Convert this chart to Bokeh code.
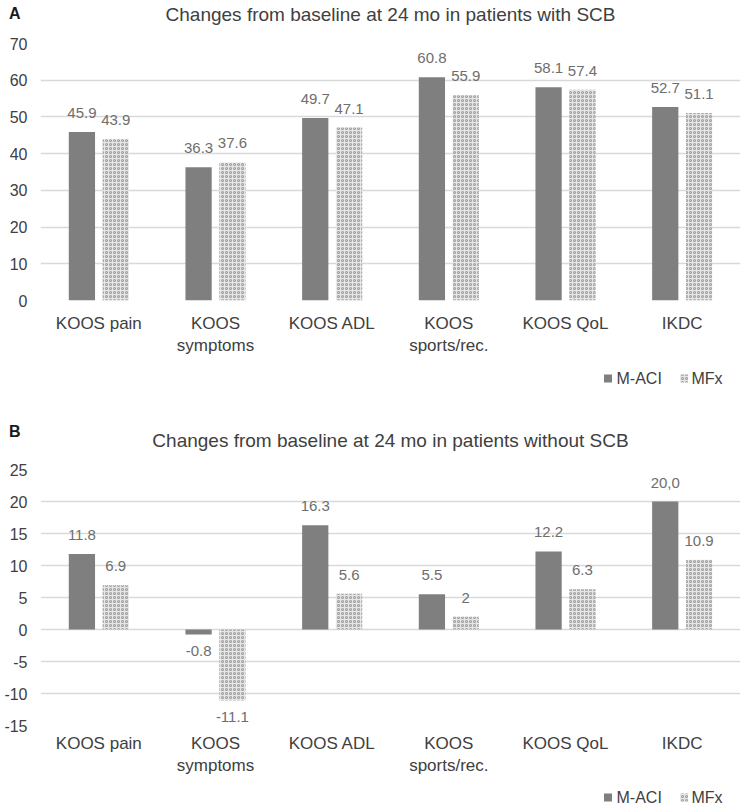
from bokeh.plotting import figure
from bokeh.models import ColumnDataSource, Range1d, FixedTicker
from bokeh.layouts import column
from bokeh.core.properties import value
from bokeh.embed import file_html
from bokeh.resources import INLINE

# ---------------- data ----------------
categories = ["KOOS pain", "KOOS\nsymptoms", "KOOS ADL", "KOOS\nsports/rec.", "KOOS QoL", "IKDC"]
series = ["M-ACI", "MFx"]

a_maci = [45.9, 36.3, 49.7, 60.8, 58.1, 52.7]
a_mfx = [43.9, 37.6, 47.1, 55.9, 57.4, 51.1]
a_maci_labels = ["45.9", "36.3", "49.7", "60.8", "58.1", "52.7"]
a_mfx_labels = ["43.9", "37.6", "47.1", "55.9", "57.4", "51.1"]
a_yticks = [0, 10, 20, 30, 40, 50, 60, 70]

b_maci = [11.8, -0.8, 16.3, 5.5, 12.2, 20.0]
b_mfx = [6.9, -11.1, 5.6, 2.0, 6.3, 10.9]
b_maci_labels = ["11.8", "-0.8", "16.3", "5.5", "12.2", "20,0"]
b_mfx_labels = ["6.9", "-11.1", "5.6", "2", "6.3", "10.9"]
b_yticks = [-15, -10, -5, 0, 5, 10, 15, 20, 25]

FONT = "Liberation Sans"
DARK = "#7f7f7f"
HATCH_FILL = "#e6e6e6"
HATCH_COL = "#a4a4a4"
LABEL_COL = "#6e6e6e"
TEXT_COL = "#404040"
BAR_W = 0.225
OFF = 0.145
W = 753
LEFT = 40
FRAME_W = 700
RIGHT = W - LEFT - FRAME_W


def blank(height, with_axis=False):
    p = figure(width=W, height=height, output_backend="svg",
               toolbar_location=None,
               x_range=Range1d(LEFT, LEFT + FRAME_W), y_range=Range1d(0, height),
               x_axis_location=None, y_axis_location=("left" if with_axis else None),
               min_border_left=LEFT, min_border_right=RIGHT,
               min_border_top=0, min_border_bottom=0)
    p.grid.visible = False
    p.outline_line_color = None
    p.background_fill_color = "white"
    p.border_fill_color = "white"
    return p


def header(letter, title, height, letter_y, title_y):
    h = blank(height, with_axis=True)
    # panel letter shown as the single tick label of the header's left axis
    ax = h.yaxis[0]
    ax.ticker = FixedTicker(ticks=[letter_y])
    ax.major_label_overrides = {letter_y: letter}
    ax.axis_label = None
    ax.axis_line_color = None
    ax.major_tick_line_color = None
    ax.minor_tick_line_color = None
    ax.major_tick_out = 0
    ax.major_tick_in = 0
    ax.minor_tick_out = 0
    ax.minor_tick_in = 0
    ax.major_label_standoff = 20
    ax.major_label_text_font = FONT
    ax.major_label_text_font_size = "16px"
    ax.major_label_text_font_style = "bold"
    ax.major_label_text_color = "#1a1a1a"
    h.text(x=[LEFT + FRAME_W / 2], y=[title_y], text=[title], text_align="center",
           text_baseline="middle", text_font=value(FONT), text_font_size="19px",
           text_color=TEXT_COL)
    return h


def footer(height, cy):
    f = blank(height)
    # legend: square swatches + labels
    f.rect(x=[607.5], y=[cy], width=8, height=8, fill_color=DARK, line_color=None)
    f.rect(x=[683.5], y=[cy], width=8, height=8, fill_color=HATCH_FILL, line_color=None,
           hatch_pattern="ring", hatch_color=HATCH_COL, hatch_scale=4, hatch_weight=1.1)
    f.text(x=[616, 691], y=[cy, cy], text=series, text_align="left",
           text_baseline="middle", text_font=value(FONT), text_font_size="16px",
           text_color=TEXT_COL)
    return f


def panel(maci, mfx, maci_lbl, mfx_lbl, ymin, ymax, yticks,
          frame_h, top, bottom, xstand, ystand):
    p = figure(frame_width=FRAME_W, frame_height=frame_h, output_backend="svg",
               toolbar_location=None,
               x_range=Range1d(-0.5, 5.5), y_range=Range1d(ymin, ymax),
               min_border_left=LEFT, min_border_right=RIGHT,
               min_border_top=top, min_border_bottom=bottom)
    p.outline_line_color = None
    p.background_fill_color = "white"
    p.border_fill_color = "white"

    idx = list(range(len(categories)))
    src_a = ColumnDataSource(dict(x=[i - OFF for i in idx], top=maci, lbl=maci_lbl))
    src_b = ColumnDataSource(dict(x=[i + OFF for i in idx], top=mfx, lbl=mfx_lbl))

    p.vbar(x="x", top="top", bottom=0, width=BAR_W, source=src_a,
           fill_color=DARK, line_color=None)
    p.vbar(x="x", top="top", bottom=0, width=BAR_W, source=src_b,
           fill_color=HATCH_FILL, line_color=None,
           hatch_pattern="ring", hatch_color=HATCH_COL, hatch_scale=4,
           hatch_weight=1.1)

    # value labels
    for xs, vals, lbls in ((src_a.data["x"], maci, maci_lbl), (src_b.data["x"], mfx, mfx_lbl)):
        pos = [(x, v, l) for x, v, l in zip(xs, vals, lbls) if v >= 0]
        neg = [(x, v, l) for x, v, l in zip(xs, vals, lbls) if v < 0]
        if pos:
            p.text(x=[t[0] for t in pos], y=[t[1] for t in pos], text=[t[2] for t in pos],
                   text_align="center", text_baseline="bottom", y_offset=-14,
                   text_font=value(FONT), text_font_size="15px", text_color=LABEL_COL)
        if neg:
            p.text(x=[t[0] for t in neg], y=[t[1] for t in neg], text=[t[2] for t in neg],
                   text_align="center", text_baseline="top", y_offset=11,
                   text_font=value(FONT), text_font_size="15px", text_color=LABEL_COL)

    # axes
    for ax in (p.xaxis, p.yaxis):
        ax.axis_label = None
        ax.axis_line_color = None
        ax.major_tick_line_color = None
        ax.minor_tick_line_color = None
        ax.major_tick_out = 0
        ax.major_tick_in = 0
        ax.minor_tick_out = 0
        ax.minor_tick_in = 0
        ax.major_label_text_font = FONT
        ax.major_label_text_color = TEXT_COL

    p.xaxis.ticker = FixedTicker(ticks=idx)
    p.xaxis.major_label_overrides = {i: c for i, c in enumerate(categories)}
    p.xaxis.major_label_standoff = xstand
    p.xaxis.major_label_text_font_size = "17px"

    p.yaxis.ticker = FixedTicker(ticks=yticks)
    p.yaxis.major_label_overrides = {t: str(t) for t in yticks}
    p.yaxis.major_label_standoff = ystand
    p.yaxis.major_label_text_font_size = "16px"

    p.xgrid.grid_line_color = None
    p.ygrid.grid_line_color = "#d9d9d9"
    p.ygrid.grid_line_width = 1.3
    return p


ha = header("A", "Changes from baseline at 24 mo in patients with SCB",
            height=30, letter_y=17, title_y=16)
pa = panel(a_maci, a_mfx, a_maci_labels, a_mfx_labels, 0, 70, a_yticks,
           frame_h=257, top=13, bottom=60, xstand=13, ystand=13)
fa = footer(29, 11)

hb = header("B", "Changes from baseline at 24 mo in patients without SCB",
            height=66, letter_y=24, title_y=15)
pb = panel(b_maci, b_mfx, b_maci_labels, b_mfx_labels, -15, 25, b_yticks,
           frame_h=256, top=14, bottom=52, xstand=8, ystand=13)
fb = footer(31, 12)

layout = column(ha, pa, fa, hb, pb, fb, spacing=0)
open("out.html", "w").write(file_html(layout, INLINE))
